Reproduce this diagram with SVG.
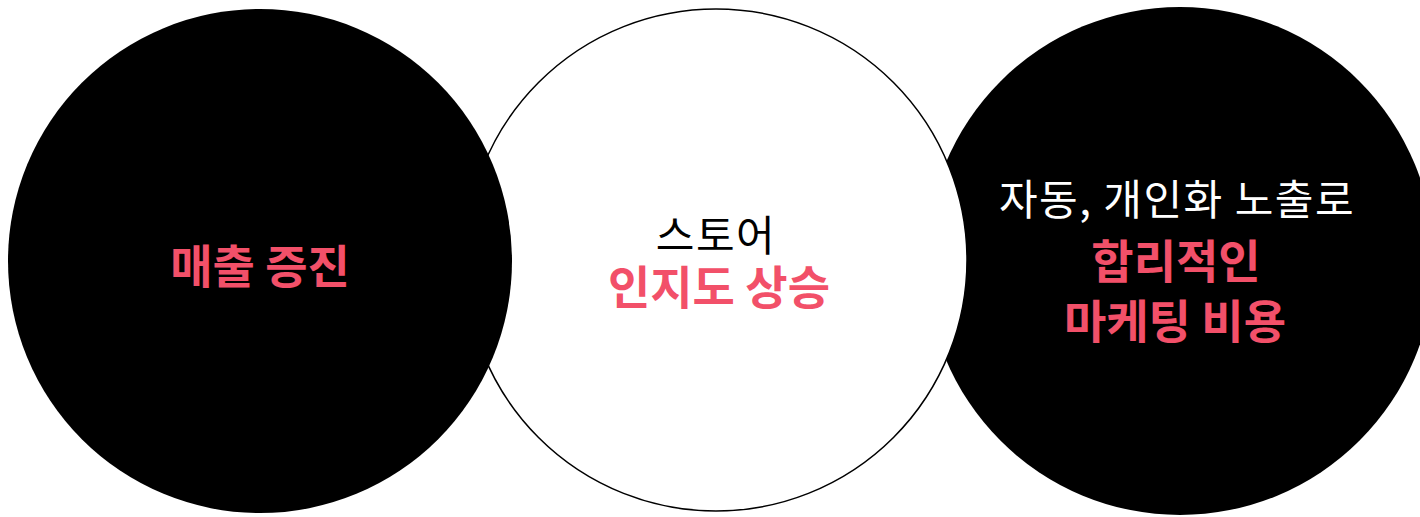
<svg xmlns="http://www.w3.org/2000/svg" width="1420" height="517" viewBox="0 0 1420 517">
<style>
.k{font-family:"Noto Sans CJK KR","Noto Sans",sans-serif;text-anchor:middle}
.b{font-weight:700;fill:#F25069;font-size:46px}
.r{font-weight:400;font-size:42px;letter-spacing:1.5px}
</style>
<rect width="1420" height="517" fill="#ffffff"/>
<g id="node-right">
<circle cx="1180" cy="261" r="254" fill="#000000"/>
</g>
<g id="node-middle">
<circle cx="716" cy="260" r="251" fill="#ffffff" stroke="#000000" stroke-width="1.5"/>
</g>
<g id="node-left">
<circle cx="260" cy="261" r="252" fill="#000000"/>
<text class="k b" x="260" y="283">매출 증진</text>
</g>
<g id="label-middle">
<text class="k r" x="716" y="251" fill="#000000">스토어</text>
<text class="k b" x="719" y="304">인지도 상승</text>
</g>
<g id="label-right">
<text class="k r" x="1177" y="215" fill="#ffffff">자동, 개인화 노출로</text>
<text class="k b" x="1176" y="278">합리적인</text>
<text class="k b" x="1175" y="338">마케팅 비용</text>
</g>
<g id="connectors"></g>
</svg>
